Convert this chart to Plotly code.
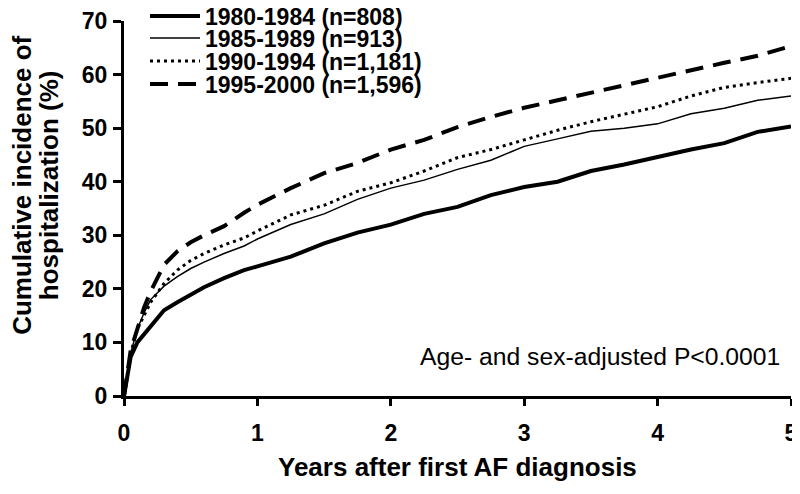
import plotly.graph_objects as go

years = [0, 0.03, 0.05, 0.1, 0.15, 0.2, 0.3, 0.4, 0.5, 0.6, 0.75, 0.9, 1.0,
         1.25, 1.5, 1.75, 2.0, 2.25, 2.5, 2.75, 3.0, 3.25, 3.5, 3.75, 4.0,
         4.25, 4.5, 4.75, 5.0]

inc_1980 = [0, 4.2, 7.3, 10.0, 11.5, 12.8, 16.0, 17.5, 18.8, 20.3, 22.0, 23.5, 24.2,
            26.0, 28.5, 30.5, 32.0, 34.0, 35.3, 37.5, 39.0, 40.0, 42.0, 43.2, 44.6,
            46.0, 47.2, 49.3, 50.3]
inc_1985 = [0, 5.0, 8.0, 12.5, 15.5, 18.0, 20.5, 22.3, 23.8, 25.0, 26.6, 28.0, 29.3,
            32.0, 34.0, 36.7, 38.8, 40.3, 42.3, 44.0, 46.6, 48.0, 49.4, 50.0, 50.8,
            52.7, 53.7, 55.2, 56.0]
inc_1990 = [0, 5.0, 8.0, 12.5, 15.0, 17.5, 21.0, 23.5, 25.3, 26.6, 28.2, 29.5, 30.8,
            33.8, 35.6, 38.2, 39.8, 42.0, 44.5, 46.0, 47.8, 49.6, 51.2, 52.6, 54.0,
            56.0, 57.6, 58.5, 59.3]
inc_1995 = [0, 5.5, 8.5, 12.5, 16.5, 19.5, 24.5, 27.0, 28.7, 30.0, 31.7, 34.2, 35.7,
            38.8, 41.6, 43.5, 46.0, 47.8, 50.2, 52.1, 53.8, 55.2, 56.6, 58.0, 59.4,
            60.9, 62.2, 63.5, 65.3]

labels = ["1980-1984 (n=808)", "1985-1989 (n=913)",
          "1990-1994 (n=1,181)", "1995-2000 (n=1,596)"]
series = [inc_1980, inc_1985, inc_1990, inc_1995]
styles = [dict(width=4, dash="solid"),
          dict(width=1.5, dash="solid"),
          dict(width=3, dash="3px,4px"),
          dict(width=4, dash="18px,10px")]

FONT = "Arial, Liberation Sans, sans-serif"
W, H = 800, 494
# page has an 8px body margin, so the figure is laid out 8px up/left
legend_rows = [8, 30, 53, 76]  # legend row centres, px from figure top

fig = go.Figure()
legend_ids = ["legend", "legend2", "legend3", "legend4"]
for lab, vals, st, lid in zip(labels, series, styles, legend_ids):
    fig.add_trace(go.Scatter(x=years, y=vals, mode="lines", name=lab, legend=lid,
                             line=dict(color="black", **st)))

leg_common = dict(xref="container", yref="container", x=137 / W, xanchor="left",
                  yanchor="middle", bgcolor="rgba(0,0,0,0)", itemwidth=50,
                  borderwidth=0, font=dict(family=FONT, size=23, weight="bold"))
legends = {lid: dict(leg_common, y=1 - r / H) for lid, r in zip(legend_ids, legend_rows)}

fig.add_annotation(x=4.93, y=7.3, xref="x", yref="y", xanchor="right", yanchor="middle",
                   text="Age- and sex-adjusted P<0.0001", showarrow=False,
                   font=dict(family=FONT, size=24.7, color="black"))

title_font = dict(family=FONT, size=26, weight="bold", color="black")
fig.add_annotation(x=0.5, y=-0.189, xref="paper", yref="paper", xanchor="center",
                   yanchor="middle", showarrow=False, font=title_font,
                   text="Years after first AF diagnosis")
fig.add_annotation(x=-0.153, y=0.563, xref="paper", yref="paper", xanchor="center",
                   yanchor="middle", showarrow=False, textangle=-90, font=title_font,
                   text="Cumulative incidence of")
fig.add_annotation(x=-0.112, y=0.563, xref="paper", yref="paper", xanchor="center",
                   yanchor="middle", showarrow=False, textangle=-90, font=title_font,
                   text="hospitalization (%)")

fig.update_layout(
    width=W, height=H,
    margin=dict(l=116, r=17, t=13, b=106, autoexpand=False),
    plot_bgcolor="white", paper_bgcolor="white",
    font=dict(family=FONT, color="black"),
    showlegend=True,
    **legends,
    xaxis=dict(range=[0, 5], tickvals=[0, 1, 2, 3, 4, 5], showgrid=False, zeroline=False,
               automargin=False,
               showline=True, linewidth=3, linecolor="black",
               ticks="outside", ticklen=7, tickwidth=3, tickcolor="black",
               ticklabelstandoff=7,
               tickfont=dict(family=FONT, size=23, weight="bold")),
    yaxis=dict(range=[0, 70], tickvals=[0, 10, 20, 30, 40, 50, 60, 70], showgrid=False,
               automargin=False,
               zeroline=False, showline=True, linewidth=3, linecolor="black",
               ticks="outside", ticklen=8, tickwidth=3, tickcolor="black",
               ticklabelstandoff=1,
               tickfont=dict(family=FONT, size=23, weight="bold")),
)

fig.write_html("out.html")
